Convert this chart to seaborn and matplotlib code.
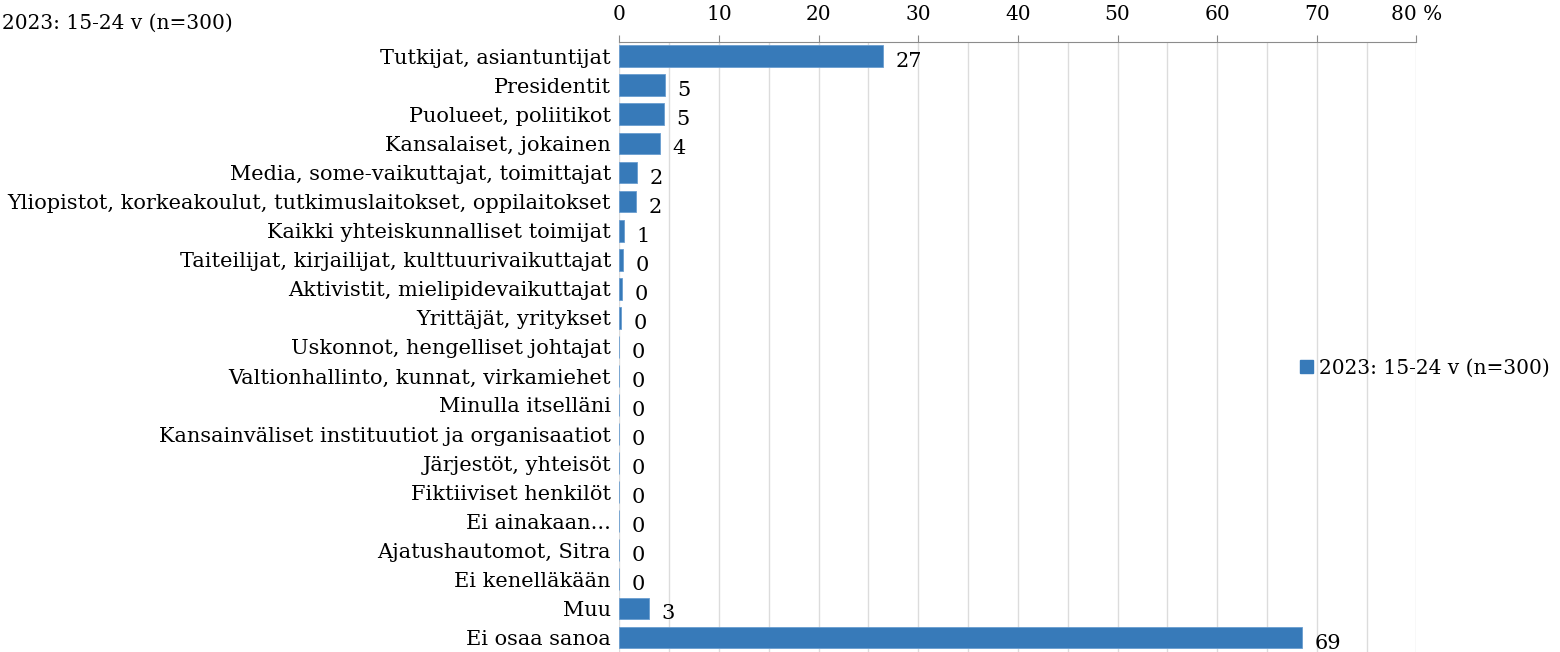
import matplotlib
matplotlib.use("Agg")
import matplotlib.pyplot as plt
import seaborn as sns
import pandas as pd

# categories and shares (%)
categories = [
    "Tutkijat, asiantuntijat", "Presidentit", "Puolueet, poliitikot",
    "Kansalaiset, jokainen", "Media, some-vaikuttajat, toimittajat",
    "Yliopistot, korkeakoulut, tutkimuslaitokset, oppilaitokset",
    "Kaikki yhteiskunnalliset toimijat", "Taiteilijat, kirjailijat, kulttuurivaikuttajat",
    "Aktivistit, mielipidevaikuttajat", "Yrittäjät, yritykset",
    "Uskonnot, hengelliset johtajat", "Valtionhallinto, kunnat, virkamiehet",
    "Minulla itselläni", "Kansainväliset instituutiot ja organisaatiot",
    "Järjestöt, yhteisöt", "Fiktiiviset henkilöt", "Ei ainakaan...",
    "Ajatushautomot, Sitra", "Ei kenelläkään", "Muu", "Ei osaa sanoa",
]
values = [26.5, 4.6, 4.5, 4.1, 1.8, 1.7, 0.45, 0.4, 0.3, 0.2,
          0, 0, 0, 0, 0, 0, 0, 0, 0, 3.0, 68.5]
value_labels = ["27", "5", "5", "4", "2", "2", "1", "0", "0", "0",
                "0", "0", "0", "0", "0", "0", "0", "0", "0", "3", "69"]
series_name = "2023: 15-24 v (n=300)"
xticks = [0, 10, 20, 30, 40, 50, 60, 70, 80]
xticklabels = ["0", "10", "20", "30", "40", "50", "60", "70", "80 %"]

df = pd.DataFrame({"cat": categories, "val": values, "series": series_name})

sns.set_style("white")
plt.rcParams["font.family"] = ["DejaVu Serif"]
plt.rcParams["text.color"] = "black"
plt.rcParams["xtick.color"] = "black"
plt.rcParams["ytick.color"] = "black"
color = "#377AB9"
fs = 15

fig = plt.figure(figsize=(15.6, 6.52), dpi=100)
ax = fig.add_axes([0.397, 0.0, 0.511, 0.936])

sns.barplot(data=df, y="cat", x="val", hue="series", palette=[color], saturation=1,
            width=0.75, orient="h", ax=ax, legend=False, edgecolor="#6A9DD0", linewidth=0.6)

ax.set_xlim(0, 80)
ax.set_ylim(len(categories) - 0.5, -0.5)
ax.xaxis.tick_top()
ax.set_xticks(xticks)
ax.set_xticklabels(xticklabels, fontsize=fs - 0.5)
ax.set_xticks(range(5, 80, 10), minor=True)
ax.tick_params(axis="x", which="major", length=5, color="#8c8c8c", pad=8, direction="out")
ax.tick_params(axis="x", which="minor", length=0)
ax.tick_params(axis="y", length=0, labelsize=fs, pad=6)
ax.set_xlabel("")
ax.set_ylabel("")
ax.grid(axis="x", which="both", color="#dcdcdc", linewidth=1)
ax.set_axisbelow(True)
for s in ["right", "bottom", "left"]:
    ax.spines[s].set_visible(False)
ax.spines["top"].set_color("#8c8c8c")

for i, (v, lab) in enumerate(zip(values, value_labels)):
    ax.annotate(lab, xy=(v, i), xytext=(9, -4), textcoords="offset points",
                va="center", ha="left", fontsize=fs)

# series title at top left
fig.text(0.001, 0.965, series_name, fontsize=fs - 0.5, ha="left", va="center")

# legend on the right
fig.legend(handles=[plt.Rectangle((0, 0), 1, 1, color=color)], labels=[series_name],
           loc="center left", bbox_to_anchor=(0.822, 0.435), frameon=False,
           fontsize=fs - 0.5, handlelength=0.6, handleheight=0.6, handletextpad=0.3)

fig.savefig("out.png", dpi=100)
